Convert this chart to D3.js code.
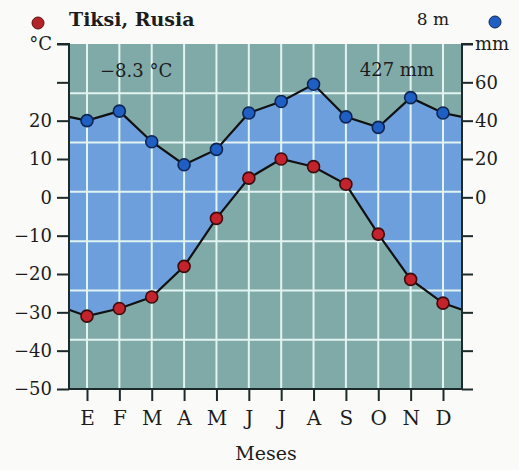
<!DOCTYPE html>
<html>
<head>
<meta charset="utf-8">
<script src="https://cdn.jsdelivr.net/npm/d3@7"></script>
<style>
  body { margin: 0; background: #fafaf8; }
  svg text { font-family: "DejaVu Serif", "Liberation Serif", serif; fill: #1c1c1c; }
  .axis path, .axis line { stroke: #1d2a2a; stroke-width: 2; }
  .grid line { stroke: #e2f4f2; stroke-width: 2; }
</style>
</head>
<body>
<div id="chart"></div>
<script>
// Tiksi, Rusia - climograma
var months = ["E", "F", "M", "A", "M", "J", "J", "A", "S", "O", "N", "D"];
var tempC = [-31, -29, -26, -18, -5.5, 5, 10, 8, 3.4, -9.6, -21.4, -27.6];
var precipMm = [40, 45, 29, 17, 25, 44, 50, 59, 42, 36.5, 52, 44];
var tempTicks = [-50, -40, -30, -20, -10, 0, 10, 20, 30, 40];
var precipTicks = [-100, -80, -60, -40, -20, 0, 20, 40, 60, 80];
var stationName = "Tiksi, Rusia";
var altitude = "8 m";
var meanTemp = "\u22128.3 \u00b0C";
var totalPrecip = "427 mm";

var width = 519, height = 470;
var m = {left: 69, right: 462, top: 44, bottom: 389};

var svg = d3.select("#chart").append("svg")
    .attr("width", width)
    .attr("height", height);

var x = d3.scalePoint()
    .domain(d3.range(months.length))
    .range([87, 443]);

var y = d3.scaleLinear().domain([-50, 40]).range([m.bottom, m.top]);
var yR = d3.scaleLinear().domain([-100, 80]).range([m.bottom, m.top]);

// background
svg.append("rect")
    .attr("x", m.left).attr("y", m.top)
    .attr("width", m.right - m.left).attr("height", m.bottom - m.top)
    .attr("fill", "#80aaa8");

// build series with wrap-around values at the plot edges
var dl = x(0) - m.left, dr = m.right - x(11);
function edge(a) { return a[0] + (a[11] - a[0]) * dl / (dl + dr); }
var data = months.map(function(mo, i) {
    return {x: x(i), t: tempC[i], p: precipMm[i]};
});
var ext = [{x: m.left, t: edge(tempC), p: edge(precipMm)}]
    .concat(data)
    .concat([{x: m.right, t: edge(tempC), p: edge(precipMm)}]);

// humid area between precipitation and temperature
var area = d3.area()
    .x(function(d) { return d.x; })
    .y0(function(d) { return y(d.t); })
    .y1(function(d) { return yR(d.p); });

svg.append("path")
    .datum(ext)
    .attr("d", area)
    .attr("fill", "#6d9fdc");

// grid
var grid = svg.append("g").attr("class", "grid");
grid.selectAll(".v")
    .data(d3.range(months.length))
    .enter().append("line")
    .attr("x1", function(d) { return x(d); })
    .attr("x2", function(d) { return x(d); })
    .attr("y1", m.top).attr("y2", m.bottom);
var rows = 7;
grid.selectAll(".h")
    .data(d3.range(1, rows))
    .enter().append("line")
    .attr("x1", m.left).attr("x2", m.right)
    .attr("y1", function(d) { return m.top + (m.bottom - m.top) * d / rows; })
    .attr("y2", function(d) { return m.top + (m.bottom - m.top) * d / rows; });

// lines
var tLine = d3.line().x(function(d) { return d.x; }).y(function(d) { return y(d.t); });
var pLine = d3.line().x(function(d) { return d.x; }).y(function(d) { return yR(d.p); });

svg.append("path").datum(ext).attr("d", pLine)
    .attr("fill", "none").attr("stroke", "#111").attr("stroke-width", 2.2);
svg.append("path").datum(ext).attr("d", tLine)
    .attr("fill", "none").attr("stroke", "#111").attr("stroke-width", 2.2);

svg.selectAll(".pdot")
    .data(data)
    .enter().append("circle")
    .attr("cx", function(d) { return d.x; })
    .attr("cy", function(d) { return yR(d.p); })
    .attr("r", 6)
    .attr("fill", "#1f5fc4")
    .attr("stroke", "#0f2550")
    .attr("stroke-width", 1.6);

svg.selectAll(".tdot")
    .data(data)
    .enter().append("circle")
    .attr("cx", function(d) { return d.x; })
    .attr("cy", function(d) { return y(d.t); })
    .attr("r", 6)
    .attr("fill", "#c4232c")
    .attr("stroke", "#3a0c0c")
    .attr("stroke-width", 1.6);

// axes
var yAxis = d3.axisLeft(y)
    .tickValues(tempTicks)
    .tickSize(12)
    .tickPadding(5)
    .tickFormat(function(d) {
        if (d == 40) return "\u00b0C";
        if (d == 30) return "";
        return d3.format("")(d);
    });
var gl = svg.append("g").attr("class", "axis")
    .attr("transform", "translate(" + m.left + ",0)")
    .call(yAxis);

var yAxisR = d3.axisRight(yR)
    .tickValues(precipTicks)
    .tickSize(11)
    .tickPadding(2)
    .tickFormat(function(d) {
        if (d == 80) return "mm";
        if (d < 0) return "";
        return d;
    });
var gr = svg.append("g").attr("class", "axis")
    .attr("transform", "translate(" + m.right + ",0)")
    .call(yAxisR);

var xAxis = d3.axisBottom(x)
    .tickSize(12)
    .tickPadding(10)
    .tickFormat(function(i) { return months[i]; });
var gx = svg.append("g").attr("class", "axis")
    .attr("transform", "translate(0," + m.bottom + ")")
    .call(xAxis);
gx.select(".domain").attr("d", "M" + m.left + ",0H" + m.right);

[gl, gr].forEach(function(g) {
    g.selectAll("text").style("font-size", "18px").attr("fill", "#1c1c1c");
});
gx.selectAll("text").style("font-size", "20px").attr("fill", "#1c1c1c");
gl.select(".domain").attr("d", "M-12," + m.top + "H0V" + m.bottom);
gr.select(".domain").attr("d", "M11," + m.top + "H0V" + m.bottom);

// titles
svg.append("text")
    .attr("x", m.left).attr("y", 26)
    .style("font-size", "19px").style("font-weight", "bold")
    .text(stationName);
svg.append("circle")
    .attr("cx", 38).attr("cy", 23).attr("r", 6)
    .attr("fill", "#b2232a").attr("stroke", "#5a1010");
svg.append("text")
    .attr("x", 449).attr("y", 25)
    .attr("text-anchor", "end")
    .style("font-size", "17px")
    .text(altitude);
svg.append("circle")
    .attr("cx", 495).attr("cy", 22).attr("r", 6)
    .attr("fill", "#1f5fc4").attr("stroke", "#0f2550");

svg.append("text")
    .attr("x", 100).attr("y", 77)
    .style("font-size", "18px")
    .text(meanTemp);
svg.append("text")
    .attr("x", 434).attr("y", 76)
    .attr("text-anchor", "end")
    .style("font-size", "18px")
    .text(totalPrecip);

svg.append("text")
    .attr("x", 266).attr("y", 460)
    .attr("text-anchor", "middle")
    .style("font-size", "19px")
    .text("Meses");
</script>
</body>
</html>
